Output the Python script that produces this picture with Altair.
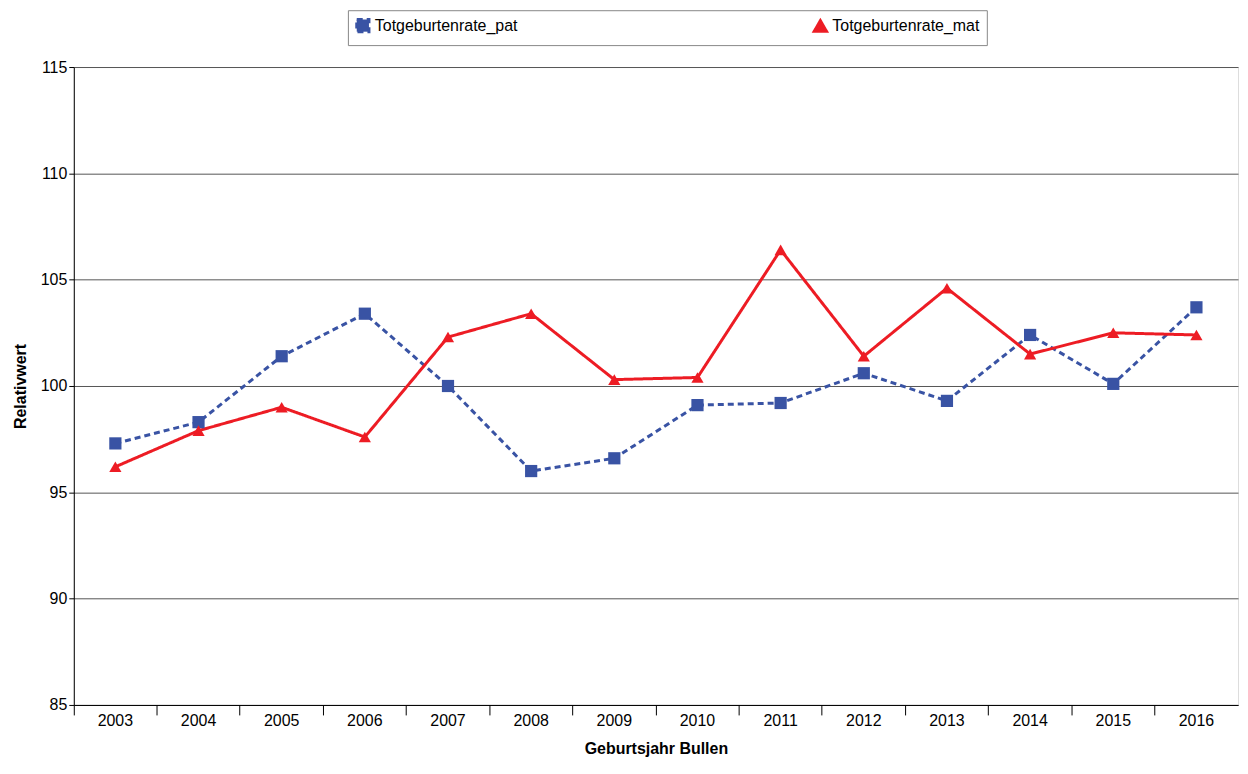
import altair as alt
import pandas as pd

years = [str(y) for y in range(2003, 2017)]
pat = [97.3, 98.3, 101.4, 103.4, 100.0, 96.0, 96.6, 99.1, 99.2, 100.6, 99.3, 102.4, 100.1, 103.7]
mat = [96.2, 97.9, 99.0, 97.6, 102.3, 103.4, 100.3, 100.4, 106.4, 101.4, 104.6, 101.5, 102.5, 102.4]
names = ["Totgeburtenrate_pat", "Totgeburtenrate_mat"]

rows = []
for i, y in enumerate(years):
    rows.append({"Jahr": y, "Serie": names[0], "Wert": pat[i]})
    rows.append({"Jahr": y, "Serie": names[1], "Wert": mat[i]})
df = pd.DataFrame(rows)

x = alt.X("Jahr:N", title="Geburtsjahr Bullen", sort=years,
          scale=alt.Scale(type="band", paddingInner=0, paddingOuter=0),
          axis=alt.Axis(labelAngle=0, bandPosition=0, grid=False, tickSize=10,
                        labelFontSize=16, titleFontSize=16, titleFontWeight="bold",
                        labelPadding=-2, titlePadding=12, domainColor="black", tickColor="black"))
y = alt.Y("Wert:Q", title="Relativwert", scale=alt.Scale(domain=[85, 115], nice=False),
          axis=alt.Axis(values=[85, 90, 95, 100, 105, 110, 115], labelFontSize=16,
                        titleFontSize=16, titleFontWeight="bold", gridColor="#555", gridOpacity=1,
                        domainColor="black", tickColor="black", tickSize=5, titlePadding=12))
color = alt.Color("Serie:N", sort=names, title=None,
                  scale=alt.Scale(domain=names, range=["#3953A4", "#ED1C24"]),
                  legend=alt.Legend(orient="none", legendX=275, legendY=-57, direction="horizontal",
                                    strokeColor="#888", padding=7, labelFontSize=16,
                                    symbolSize=150, columnPadding=290, symbolStrokeWidth=3,
                                    labelLimit=400))
shape = alt.Shape("Serie:N", sort=names, title=None,
                  scale=alt.Scale(domain=names, range=["square", "triangle-up"]))
dash = alt.StrokeDash("Serie:N", sort=names, title=None,
                      scale=alt.Scale(domain=names, range=[[6, 4], [1, 0]]))

base = alt.Chart(df)
lines = base.mark_line(strokeWidth=3).encode(x=x, y=y, color=color, strokeDash=dash)
pts = base.mark_point(filled=True, size=150, opacity=1).encode(x=x, y=y, color=color, shape=shape)

chart = alt.layer(lines, pts).properties(width=1168, height=640, padding={"left": 4, "top": 0, "right": 2, "bottom": 0}).configure_view(
    stroke="black", strokeWidth=1).configure(font="Liberation Sans")
chart.save("out.html", embed_options={"renderer": "svg", "actions": False})
